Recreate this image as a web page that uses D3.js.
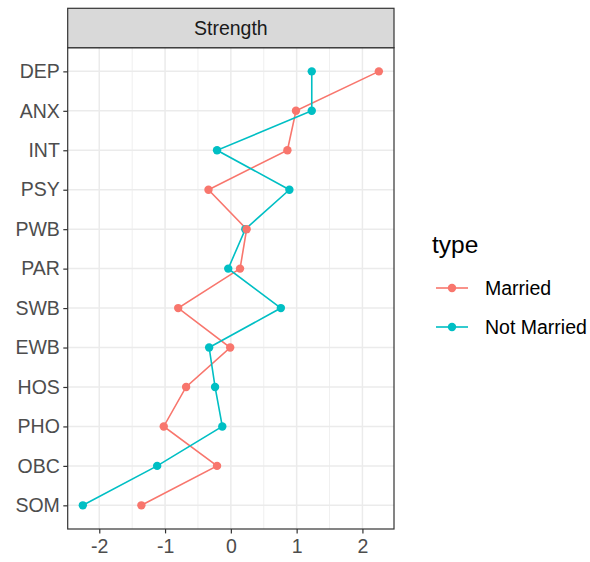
<!DOCTYPE html>
<html>
<head>
<meta charset="utf-8">
<script src="https://cdn.jsdelivr.net/npm/d3@7"></script>
<style>
  body { margin: 0; background: #fff; }
  svg { font-family: "Liberation Sans", Arial, sans-serif; }
</style>
</head>
<body>
<svg id="chart"></svg>
<script>
// categories top to bottom
var categories = ["DEP", "ANX", "INT", "PSY", "PWB", "PAR", "SWB", "EWB", "HOS", "PHO", "OBC", "SOM"];
var married = [2.25, 0.99, 0.86, -0.34, 0.24, 0.14, -0.80, -0.01, -0.68, -1.02, -0.21, -1.36];
var notMarried = [1.23, 1.23, -0.21, 0.89, 0.22, -0.04, 0.76, -0.33, -0.24, -0.13, -1.12, -2.25];
var xTicks = [-2, -1, 0, 1, 2];
var xMinor = [-1.5, -0.5, 0.5, 1.5];

var series = [
    {name: "Married", values: married, color: "#F8766D"},
    {name: "Not Married", values: notMarried, color: "#00BFC4"}
];

var screen = {width: 590, height: 562};
var panel = {left: 67.7, right: 394, top: 47.7, bottom: 529};
var strip = {top: 8.3, bottom: 47.7};

var svg = d3.select("#chart")
    .attr("width", screen.width)
    .attr("height", screen.height);

var xScale = d3.scaleLinear()
    .domain([-2.48, 2.48])
    .range([panel.left, panel.right]);

var yScale = d3.scalePoint()
    .domain(categories)
    .range([panel.top, panel.bottom])
    .padding(0.6);

// panel background + grid
svg.append("rect")
    .attr("x", panel.left).attr("y", panel.top)
    .attr("width", panel.right - panel.left)
    .attr("height", panel.bottom - panel.top)
    .attr("fill", "#fff");

var grid = svg.append("g");
grid.selectAll(".minor")
    .data(xMinor)
    .enter()
    .append("line")
    .attr("x1", function(d){return xScale(d);})
    .attr("x2", function(d){return xScale(d);})
    .attr("y1", panel.top).attr("y2", panel.bottom)
    .attr("stroke", "#EBEBEB").attr("stroke-width", 0.8);
grid.selectAll(".majorx")
    .data(xTicks)
    .enter()
    .append("line")
    .attr("x1", function(d){return xScale(d);})
    .attr("x2", function(d){return xScale(d);})
    .attr("y1", panel.top).attr("y2", panel.bottom)
    .attr("stroke", "#EBEBEB").attr("stroke-width", 1.5);
grid.selectAll(".majory")
    .data(categories)
    .enter()
    .append("line")
    .attr("y1", function(d){return yScale(d);})
    .attr("y2", function(d){return yScale(d);})
    .attr("x1", panel.left).attr("x2", panel.right)
    .attr("stroke", "#EBEBEB").attr("stroke-width", 1.5);

// lines
var line = d3.line()
    .x(function(d){return xScale(d.value);})
    .y(function(d){return yScale(d.cat);});

series.forEach(function(s)
{
    var pts = categories.map(function(c, i){return {cat: c, value: s.values[i]};});
    svg.append("path")
        .datum(pts)
        .attr("d", line)
        .attr("fill", "none")
        .attr("stroke", s.color)
        .attr("stroke-width", 1.6);
});

// points (not married drawn first, married on top)
[series[1], series[0]].forEach(function(s)
{
    svg.append("g").selectAll("circle")
        .data(categories)
        .enter()
        .append("circle")
        .attr("cx", function(c, i){return xScale(s.values[i]);})
        .attr("cy", function(c){return yScale(c);})
        .attr("r", 4.2)
        .attr("fill", s.color);
});

// panel border
svg.append("rect")
    .attr("x", panel.left).attr("y", panel.top)
    .attr("width", panel.right - panel.left)
    .attr("height", panel.bottom - panel.top)
    .attr("fill", "none")
    .attr("stroke", "#333333").attr("stroke-width", 1.2);

// strip
svg.append("rect")
    .attr("x", panel.left).attr("y", strip.top)
    .attr("width", panel.right - panel.left)
    .attr("height", strip.bottom - strip.top)
    .attr("fill", "#D9D9D9")
    .attr("stroke", "#333333").attr("stroke-width", 1.2);
svg.append("text")
    .attr("x", (panel.left + panel.right) / 2)
    .attr("y", (strip.top + strip.bottom) / 2)
    .attr("dy", "0.36em")
    .attr("text-anchor", "middle")
    .attr("font-size", 19.5)
    .attr("fill", "#1A1A1A")
    .text("Strength");

// axes
var yAxis = d3.axisLeft(yScale).tickSize(4.4).tickPadding(3.5);
var xAxis = d3.axisBottom(xScale).tickValues(xTicks).tickSize(4.4).tickPadding(6)
    .tickFormat(function(d){return d < 0 ? "-" + Math.abs(d) : d;});

var gy = svg.append("g")
    .attr("transform", "translate(" + panel.left + ",0)")
    .call(yAxis);
var gx = svg.append("g")
    .attr("transform", "translate(0," + panel.bottom + ")")
    .call(xAxis);

[gx, gy].forEach(function(g)
{
    g.select(".domain").remove();
    g.selectAll(".tick line").attr("stroke", "#333333").attr("stroke-width", 1.2);
    g.selectAll(".tick text")
        .attr("font-size", 19.5)
        .attr("font-family", "Liberation Sans, Arial, sans-serif")
        .attr("fill", "#4D4D4D");
});

// legend
var legend = svg.append("g").attr("transform", "translate(432,0)");
legend.append("text")
    .attr("x", 0).attr("y", 253)
    .attr("font-size", 24.5)
    .attr("fill", "#000")
    .text("type");

var items = legend.selectAll(".item")
    .data(series)
    .enter()
    .append("g")
    .attr("transform", function(d, i){return "translate(0," + (288 + i * 39) + ")";});
items.append("line")
    .attr("x1", 4).attr("x2", 36)
    .attr("stroke", function(d){return d.color;})
    .attr("stroke-width", 1.6);
items.append("circle")
    .attr("cx", 20).attr("r", 4.2)
    .attr("fill", function(d){return d.color;});
items.append("text")
    .attr("x", 53).attr("dy", "0.36em")
    .attr("font-size", 19.5)
    .attr("fill", "#000")
    .text(function(d){return d.name;});
</script>
</body>
</html>
